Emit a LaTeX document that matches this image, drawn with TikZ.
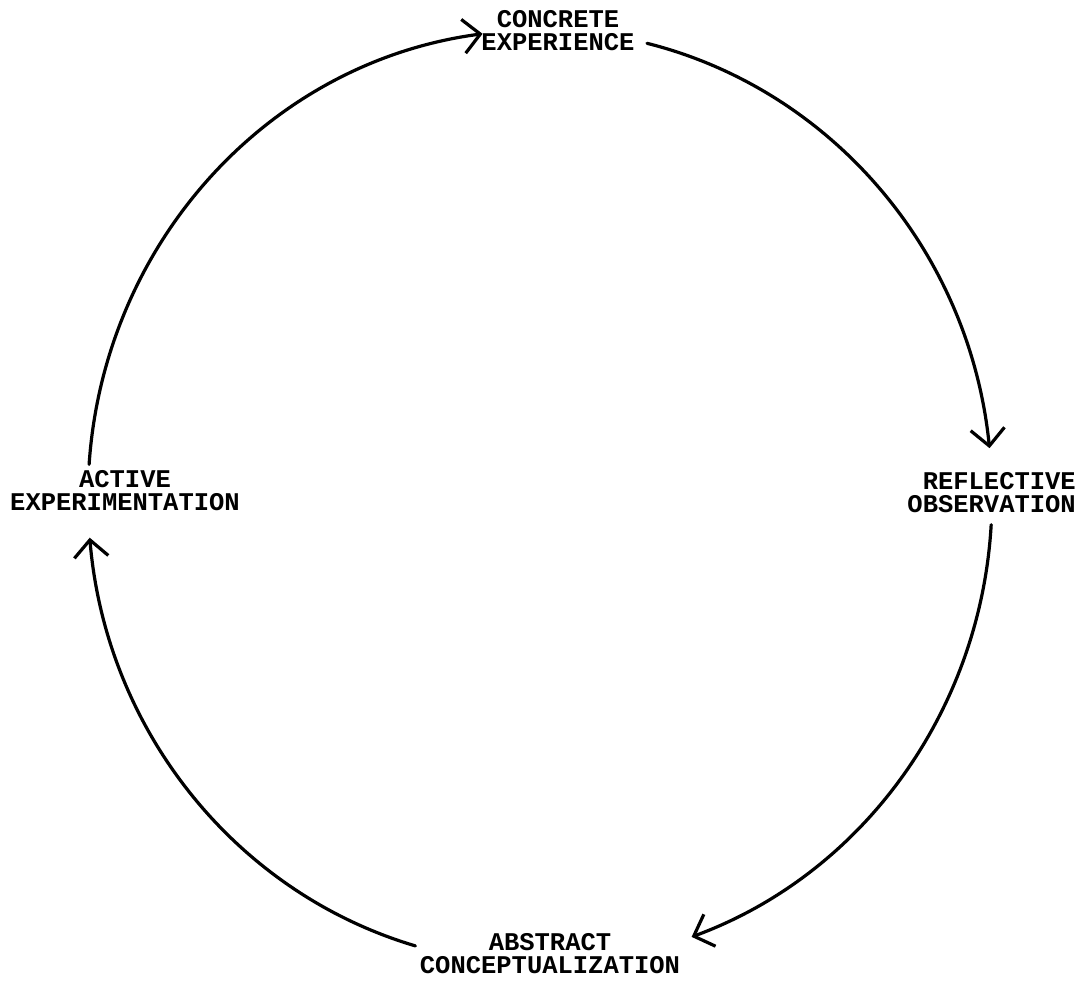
\documentclass[tikz,border=0pt]{standalone}
\usepackage{fontspec}
\setmainfont{Liberation Mono}
\usetikzlibrary{arrows.meta,calc}
\begin{document}
\begin{tikzpicture}[x=1pt,y=1pt,
  lbl/.style={inner sep=0pt,font=\bfseries\fontsize{25.5}{23}\selectfont},
  cyc/.style={line width=3.2pt,line cap=round,
    -{Straight Barb[length=17pt,width=34pt,line width=3.2pt]}}]
\useasboundingbox (0,0) rectangle (1084,984);
\coordinate (O) at (540,487);
% labels
\node[lbl,align=center] (ce) at (558,953) {CONCRETE\\EXPERIENCE};
\node[lbl,align=right,anchor=east] (ro) at (1076,491.5) {REFLECTIVE\\OBSERVATION};
\node[lbl,align=center] (ac) at (550,30.5) {ABSTRACT\\CONCEPTUALIZATION};
\node[lbl,align=center] (ae) at (125,493.5) {ACTIVE\\EXPERIMENTATION};
% arc end points
\coordinate (a1) at ($(O)+(76.3:452pt and 467pt)$);
\coordinate (a2) at ($(O)+(-3.4:452pt and 467pt)$);
\coordinate (a3) at ($(O)+(-106:452pt and 467pt)$);
\coordinate (a4) at ($(O)+(176:452pt and 467pt)$);
% arcs
\draw[cyc] (a1) arc[start angle=76.3,end angle=6,x radius=452pt,y radius=467pt];
\draw[cyc] (a2) arc[start angle=-3.4,end angle=-70.4,x radius=452pt,y radius=467pt];
\draw[cyc] (a3) arc[start angle=-106,end angle=-175,x radius=452pt,y radius=467pt];
\draw[cyc] (a4) arc[start angle=176,end angle=97.3,x radius=452pt,y radius=467pt];
\end{tikzpicture}
\end{document}
